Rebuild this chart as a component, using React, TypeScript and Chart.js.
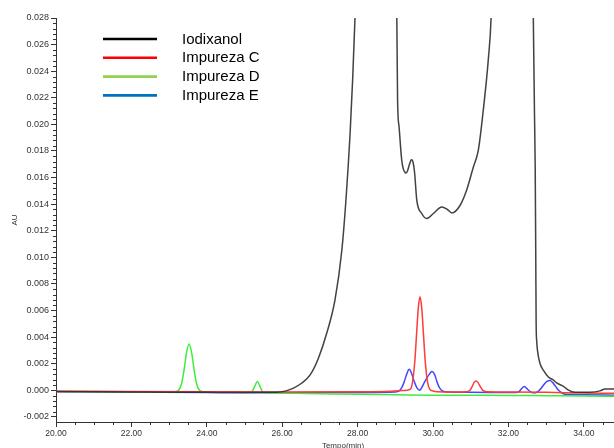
import React, { useEffect, useRef } from 'react';
import { Chart, registerables } from 'chart.js';

Chart.register(...registerables);

// Axis ticks (minutes / absorbance units)
const X_TICKS = [20, 22, 24, 26, 28, 30, 32, 34];
const Y_TICKS = [-0.002, 0, 0.002, 0.004, 0.006, 0.008, 0.01, 0.012, 0.014, 0.016, 0.018, 0.02, 0.022, 0.024, 0.026, 0.028];
const X_MIN = 20;
const X_MAX = 34.8;
const Y_MIN = -0.00238;
const Y_MAX = 0.028;
const X_MINOR_STEP = 0.5;
const Y_MINOR_STEP = 0.0004;

const SERIES_NAMES = ['Iodixanol', 'Impureza C', 'Impureza D', 'Impureza E'];
const LINE_COLORS = ['rgba(45,45,45,0.9)', '#ff3b3b', '#3cee3c', '#4646ff'];
const LEGEND_COLORS = ['#000000', '#ff0000', '#92d050', '#0070c0'];

// Iodixanol trace (main peak runs off the top of the scale)
const IODIXANOL_T = [
  20.0, 21.0, 22.0, 23.0, 24.0, 25.0, 25.85, 26.1, 26.3, 26.52, 26.74, 26.96, 27.18, 27.4, 27.58, 27.69,
  27.8, 27.87, 27.93, 28.02, 28.2, 28.6, 28.85, 28.98, 29.04, 29.06, 29.1, 29.17, 29.21, 29.25, 29.28, 29.32,
  29.37, 29.41, 29.44, 29.47, 29.51, 29.57, 29.7, 29.83, 30.01, 30.23, 30.38, 30.5, 30.72, 30.89, 31.07,
  31.2, 31.33, 31.47, 31.54, 31.65, 32.0, 32.4, 32.6, 32.66, 32.69, 32.71, 32.725, 32.735, 32.75, 32.77,
  32.84, 32.93, 33.06, 33.18, 33.28, 33.46, 33.58, 33.77, 34.16, 34.43, 34.56, 34.8,
];
const IODIXANOL_AU = [
  -0.00008, -0.0001, -0.00012, -0.00014, -0.00015, -0.00016, -0.00015, -0.00004, 0.00017, 0.00055, 0.00116,
  0.00242, 0.00429, 0.0068, 0.0105, 0.0143, 0.0193, 0.0235, 0.028, 0.036, 0.06, 0.1, 0.06, 0.036, 0.0279,
  0.0218, 0.0198, 0.0173, 0.01667, 0.01642, 0.01634, 0.01648, 0.01695, 0.01728, 0.01734, 0.01715, 0.0164,
  0.01429, 0.0133, 0.01292, 0.0133, 0.01379, 0.0136, 0.01334, 0.01392, 0.01504, 0.0168, 0.01804, 0.021, 0.025,
  0.028, 0.04, 0.1, 0.1, 0.04, 0.028, 0.021, 0.0168, 0.01, 0.005, 0.0037, 0.003, 0.002, 0.0015, 0.001, 0.0008,
  0.00056, 0.0003, 0.00004, -0.00015, -0.00014, -0.00004, 0.0001, 0.0001,
];

// Impureza C
const IMP_C_T = [
  20.0, 22.0, 24.0, 26.0, 28.0, 28.9, 29.2, 29.4, 29.46, 29.52, 29.565, 29.61, 29.655, 29.7, 29.745, 29.79,
  29.85, 29.91, 30.0, 30.1, 30.6, 30.9, 30.98, 31.04, 31.09, 31.14, 31.19, 31.25, 31.32, 31.42, 32.0, 33.0,
  34.0, 34.8,
];
const IMP_C_AU = [
  -0.00006, -0.00008, -0.0001, -0.00012, -0.0001, -0.00006, -0.00002, 0.0001, 0.0007, 0.0023, 0.0043, 0.0062,
  0.00704, 0.0062, 0.0043, 0.0023, 0.0007, 0.0001, -0.00005, -0.0001, -0.00012, -0.0001, 0.0, 0.0003, 0.0006,
  0.00071, 0.0006, 0.0003, 0.0, -0.0001, -0.00012, -0.00015, -0.0002, -0.00022,
];

// Impureza D
const IMP_D_T = [
  20.0, 21.0, 22.0, 23.0, 23.15, 23.25, 23.33, 23.4, 23.46, 23.53, 23.6, 23.66, 23.73, 23.81, 23.95, 24.5,
  25.1, 25.2, 25.27, 25.34, 25.41, 25.48, 25.6, 26.0, 27.0, 28.0, 29.0, 30.0, 31.0, 32.0, 33.0, 34.0, 34.8,
];
const IMP_D_AU = [
  -0.00008, -0.00009, -0.0001, -0.00011, -0.0001, 0.0, 0.0005, 0.0016, 0.0028, 0.00349, 0.0028, 0.0016, 0.0005,
  0.0, -0.00012, -0.00014, -0.00016, -0.00008, 0.0003, 0.00066, 0.0003, -0.0001, -0.00018, -0.0002, -0.00025,
  -0.0003, -0.00033, -0.00036, -0.00037, -0.00038, -0.0004, -0.00042, -0.00045,
];

// Impureza E
const IMP_E_T = [
  20.0, 22.0, 24.0, 26.0, 28.0, 29.0, 29.1, 29.17, 29.23, 29.3, 29.37, 29.44, 29.51, 29.57, 29.64, 29.7, 29.77,
  29.83, 29.9, 29.97, 30.04, 30.11, 30.17, 30.25, 30.4, 31.0, 32.2, 32.28, 32.34, 32.42, 32.5, 32.58, 32.66,
  32.72, 32.8, 32.88, 32.96, 33.03, 33.1, 33.17, 33.25, 33.33, 33.42, 33.5, 34.0, 34.8,
];
const IMP_E_AU = [
  -0.0001, -0.00013, -0.00017, -0.00018, -0.00016, -0.00012, -0.00005, 0.0002, 0.0006, 0.0012, 0.00159, 0.0012,
  0.0006, 0.0002, 0.0, 0.0002, 0.0006, 0.0009, 0.0012, 0.00141, 0.0012, 0.0006, 0.0002, -0.00005, -0.00013,
  -0.00015, -0.00017, -0.0001, 0.0001, 0.00029, 0.0001, -0.0001, -0.00018, -0.00018, -0.00005, 0.0002, 0.0005,
  0.0007, 0.00074, 0.0006, 0.0003, 0.0, -0.0002, -0.0003, -0.00033, -0.00036,
];

const SERIES_T = [IODIXANOL_T, IMP_C_T, IMP_D_T, IMP_E_T];
const SERIES_AU = [IODIXANOL_AU, IMP_C_AU, IMP_D_AU, IMP_E_AU];

const AXIS_COLOR = '#333333';
const TICK_FONT = 'Liberation Sans';

const toPoints = (t: number[], au: number[]) => t.map((x, i) => ({ x, y: au[i] }));

// Minor ticks, axis titles and the in-plot legend
const decorations = {
  id: 'decorations',
  afterDraw(chart: any) {
    const { ctx, chartArea: area } = chart;
    const xs = chart.scales.x;
    const ys = chart.scales.y;
    ctx.save();

    ctx.strokeStyle = AXIS_COLOR;
    ctx.lineWidth = 1;
    ctx.beginPath();
    for (let i = 0; ; i++) {
      const v = X_TICKS[0] + i * X_MINOR_STEP;
      if (v > xs.max + 1e-9) break;
      if (i % 4 === 0) continue;
      const px = Math.round(xs.getPixelForValue(v)) + 0.5;
      ctx.moveTo(px, area.bottom);
      ctx.lineTo(px, area.bottom + 3);
    }
    for (let i = 0; ; i++) {
      const v = Y_TICKS[0] + i * Y_MINOR_STEP;
      if (v > ys.max + 1e-9) break;
      if (i % 5 === 0) continue;
      const py = Math.round(ys.getPixelForValue(v)) + 0.5;
      ctx.moveTo(area.left - 3, py);
      ctx.lineTo(area.left, py);
    }
    ctx.stroke();

    ctx.fillStyle = AXIS_COLOR;
    ctx.font = `8px "${TICK_FONT}"`;
    ctx.textAlign = 'center';
    ctx.textBaseline = 'alphabetic';
    ctx.fillText('Tempo(min)', (area.left + area.right) / 2 + 8, 448);

    ctx.save();
    ctx.translate(15, (area.top + area.bottom) / 2);
    ctx.rotate(-Math.PI / 2);
    ctx.textBaseline = 'middle';
    ctx.fillText('AU', 0, 0);
    ctx.restore();

    ctx.font = '15px "Liberation Sans"';
    ctx.textAlign = 'left';
    ctx.textBaseline = 'middle';
    SERIES_NAMES.forEach((name, i) => {
      const y = 39 + i * 18.8;
      ctx.strokeStyle = LEGEND_COLORS[i];
      ctx.lineWidth = 2.6;
      ctx.beginPath();
      ctx.moveTo(103, y);
      ctx.lineTo(157, y);
      ctx.stroke();
      ctx.fillStyle = '#000000';
      ctx.fillText(name, 182, y + 0.5);
    });

    ctx.restore();
  },
};

export default function App() {
  const canvasRef = useRef<HTMLCanvasElement | null>(null);

  useEffect(() => {
    const canvas = canvasRef.current;
    if (!canvas) return;
    const chart = new Chart(canvas, {
      type: 'line',
      data: {
        datasets: SERIES_NAMES.map((name, i) => ({
          label: name,
          data: toPoints(SERIES_T[i], SERIES_AU[i]),
          borderColor: LINE_COLORS[i],
          backgroundColor: LINE_COLORS[i],
          borderWidth: 1.5,
          pointRadius: 0,
          cubicInterpolationMode: 'monotone' as const,
          fill: false,
        })),
      },
      options: {
        animation: false,
        responsive: false,
        devicePixelRatio: 1,
        events: [],
        layout: { padding: { top: 18, right: 0, bottom: 0, left: 0 } },
        plugins: {
          legend: { display: false },
          tooltip: { enabled: false },
        },
        scales: {
          x: {
            type: 'linear',
            min: X_MIN,
            max: X_MAX,
            afterBuildTicks: (axis: any) => {
              axis.ticks = X_TICKS.map((value) => ({ value }));
            },
            afterFit: (axis: any) => {
              axis.height = 26;
            },
            grid: { drawOnChartArea: false, drawTicks: true, tickLength: 5, color: AXIS_COLOR, lineWidth: 1 },
            border: { display: true, color: AXIS_COLOR, width: 1 },
            ticks: {
              autoSkip: false,
              maxRotation: 0,
              padding: 2,
              color: AXIS_COLOR,
              font: { family: TICK_FONT, size: 8.5 },
              callback: (v: any) => Number(v).toFixed(2),
            },
          },
          y: {
            type: 'linear',
            min: Y_MIN,
            max: Y_MAX,
            afterBuildTicks: (axis: any) => {
              axis.ticks = Y_TICKS.map((value) => ({ value }));
            },
            afterFit: (axis: any) => {
              axis.width = 56;
            },
            grid: { drawOnChartArea: false, drawTicks: true, tickLength: 5, color: AXIS_COLOR, lineWidth: 1 },
            border: { display: true, color: AXIS_COLOR, width: 1 },
            ticks: {
              autoSkip: false,
              padding: 2,
              color: AXIS_COLOR,
              font: { family: TICK_FONT, size: 9 },
              callback: (v: any) => Number(v).toFixed(3),
            },
          },
        },
      },
      plugins: [decorations],
    });
    return () => chart.destroy();
  }, []);

  return (
    <div style={{ position: 'fixed', left: 0, top: 0, width: 614, height: 448, background: '#ffffff' }}>
      <canvas ref={canvasRef} width={614} height={448} />
    </div>
  );
}
